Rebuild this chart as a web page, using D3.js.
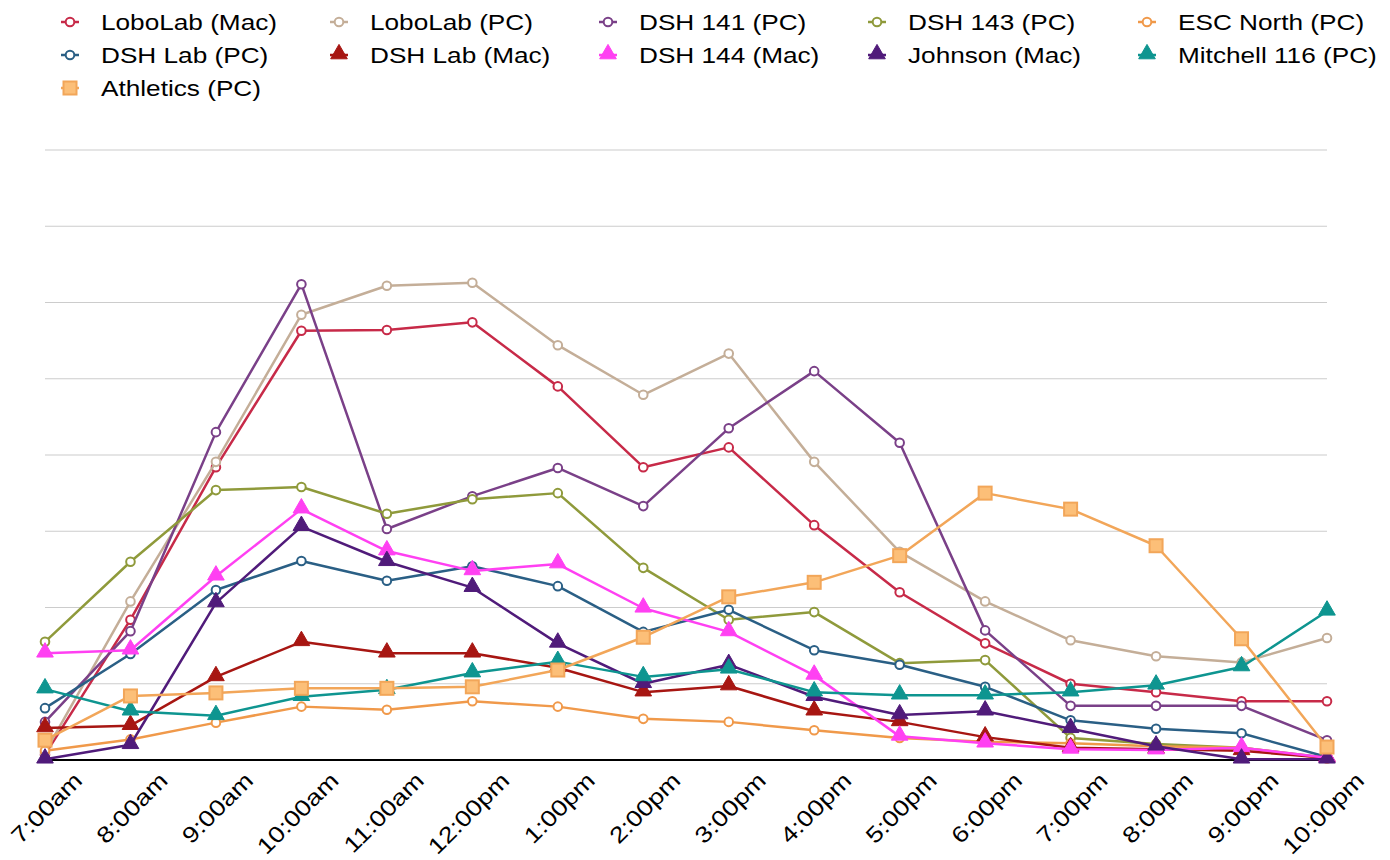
<!DOCTYPE html>
<html>
<head>
<meta charset="utf-8">
<script src="https://cdn.jsdelivr.net/npm/d3@7"></script>
<style>
  html, body { margin: 0; padding: 0; background: #fff; }
  svg { display: block; font-family: "Liberation Sans", Arial, Helvetica, sans-serif; }
</style>
</head>
<body>
<svg id="chart" width="1390" height="860"></svg>
<script>
const categories = ["7:00am","8:00am","9:00am","10:00am","11:00am","12:00pm","1:00pm","2:00pm","3:00pm","4:00pm","5:00pm","6:00pm","7:00pm","8:00pm","9:00pm","10:00pm"];
const seriesNames = ["LoboLab (Mac)","LoboLab (PC)","DSH 141 (PC)","DSH 143 (PC)","ESC North (PC)","DSH Lab (PC)","DSH Lab (Mac)","DSH 144 (Mac)","Johnson (Mac)","Mitchell 116 (PC)","Athletics (PC)"];
const loboMac   = [0.7, 18.4, 38.4, 56.3, 56.4, 57.4, 49.0, 38.4, 41.0, 30.8, 22.0, 15.3, 10.0, 8.9, 7.7, 7.7];
const loboPC    = [1.0, 20.8, 39.1, 58.4, 62.2, 62.6, 54.4, 47.9, 53.3, 39.1, 27.3, 20.8, 15.7, 13.6, 12.8, 16.0];
const dsh141    = [5.0, 16.9, 43.0, 62.4, 30.3, 34.6, 38.3, 33.3, 43.5, 51.0, 41.6, 17.0, 7.1, 7.1, 7.1, 2.6];
const dsh143    = [15.5, 26.0, 35.4, 35.8, 32.3, 34.2, 35.0, 25.2, 18.4, 19.4, 12.7, 13.1, 2.9, 2.1, 1.6, 0.3];
const escNorth  = [1.2, 2.7, 4.9, 7.0, 6.6, 7.7, 7.0, 5.4, 5.0, 3.9, 2.9, 2.4, 2.2, 1.8, 1.6, 0.2];
const dshLabPC  = [6.8, 13.9, 22.3, 26.1, 23.5, 25.4, 22.8, 16.8, 19.7, 14.4, 12.5, 9.6, 5.2, 4.1, 3.5, 0.4];
const dshLabMac = [4.2, 4.5, 10.9, 15.5, 14.0, 14.0, 12.1, 8.9, 9.7, 6.4, 5.0, 3.0, 1.6, 1.4, 1.2, 0.3];
const dsh144    = [14.0, 14.4, 24.1, 32.9, 27.4, 24.8, 25.7, 19.9, 16.8, 11.1, 3.1, 2.2, 1.4, 1.3, 1.6, 0.3];
const johnson   = [0.1, 2.0, 20.6, 30.6, 26.0, 22.6, 15.3, 10.0, 12.5, 8.3, 5.9, 6.4, 4.1, 1.8, 0.1, 0.1];
const mitchell  = [9.3, 6.4, 5.8, 8.3, 9.2, 11.4, 12.9, 10.9, 11.9, 8.9, 8.5, 8.5, 8.9, 9.8, 12.2, 19.5];
const athletics = [2.6, 8.4, 8.8, 9.4, 9.4, 9.6, 11.8, 16.1, 21.4, 23.3, 26.8, 35.0, 32.9, 28.1, 15.9, 1.7];
const yTicks = [0, 10, 20, 30, 40, 50, 60, 70, 80];

const seriesValues = [loboMac, loboPC, dsh141, dsh143, escNorth, dshLabPC, dshLabMac, dsh144, johnson, mitchell, athletics];
const colors = ["#c72a48","#c4ae98","#7a4088","#8f9a3b","#f0994a","#2a5f85","#a71612","#ff40f2","#501b7a","#0e9590","#f2a659"];
const fills  = ["#fff","#fff","#fff","#fff","#fff","#fff","#a71612","#ff40f2","#501b7a","#0e9590","#fcbf78"];
const shapes = ["circle","circle","circle","circle","circle","circle","triangle","triangle","triangle","triangle","square"];

const series = seriesNames.map((name, i) => ({ name, values: seriesValues[i], color: colors[i], fill: fills[i], shape: shapes[i] }));

const svg = d3.select("#chart");
const x = d3.scalePoint().domain(categories).range([45, 1327]);
const y = d3.scaleLinear().domain([0, 80]).range([760, 150]);

// grid
svg.append("g").selectAll("line").data(yTicks.filter(t => t > 0)).join("line")
  .attr("x1", 45).attr("x2", 1327)
  .attr("y1", d => y(d)).attr("y2", d => y(d))
  .attr("stroke", "#cccccc").attr("stroke-width", 1.2);

// baseline
svg.append("line").attr("x1", 45).attr("x2", 1327).attr("y1", y(0)).attr("y2", y(0))
  .attr("stroke", "#000").attr("stroke-width", 2);

// x axis labels
const xAxis = svg.append("g").attr("transform", `translate(0,${y(0)})`)
  .call(d3.axisBottom(x).tickSize(0).tickPadding(0));
xAxis.select(".domain").remove();
xAxis.selectAll(".tick text")
  .attr("font-size", 22.5).attr("fill", "#000")
  .attr("font-family", "Liberation Sans, Arial, sans-serif")
  .attr("text-anchor", "end")
  .attr("dy", 0).attr("y", 0)
  .attr("transform", "translate(38,22) rotate(-45) scale(1.19,1)");

const symTri = d3.symbol().type(d3.symbolTriangle).size(120);
function drawMarker(g, s, cx, cy) {
  if (s.shape === "circle") {
    g.append("circle").attr("cx", cx).attr("cy", cy).attr("r", 4.3)
      .attr("fill", "#fff").attr("stroke", s.color).attr("stroke-width", 2);
  } else if (s.shape === "triangle") {
    g.append("path").attr("d", symTri()).attr("transform", `translate(${cx},${cy - 1})`)
      .attr("fill", s.fill).attr("stroke", s.color).attr("stroke-width", 1);
  } else {
    g.append("rect").attr("x", cx - 6.5).attr("y", cy - 6.5).attr("width", 13).attr("height", 13)
      .attr("fill", s.fill).attr("stroke", s.color).attr("stroke-width", 2);
  }
}

const line = d3.line().x((d, i) => x(categories[i])).y(d => y(d));
const plot = svg.append("g");
series.forEach(s => {
  const g = plot.append("g");
  g.append("path").datum(s.values).attr("d", line)
    .attr("fill", "none").attr("stroke", s.color).attr("stroke-width", 2.5).attr("stroke-linejoin", "round");
  s.values.forEach((v, i) => drawMarker(g, s, x(categories[i]), y(v)));
});

// legend
const legend = svg.append("g");
const colX = [70, 339, 608, 877, 1147];
const rowY = [22, 55, 88];
series.forEach((s, i) => {
  const cx = colX[i % 5], cy = rowY[Math.floor(i / 5)];
  const g = legend.append("g");
  g.append("line").attr("x1", cx - 9).attr("x2", cx + 9).attr("y1", cy).attr("y2", cy)
    .attr("stroke", s.color).attr("stroke-width", 2.5);
  drawMarker(g, s, cx, cy);
  g.append("text").attr("transform", `translate(${cx + 31},${cy + 8}) scale(1.19,1)`)
    .attr("font-size", 22).attr("fill", "#000").text(s.name);
});
</script>
</body>
</html>
